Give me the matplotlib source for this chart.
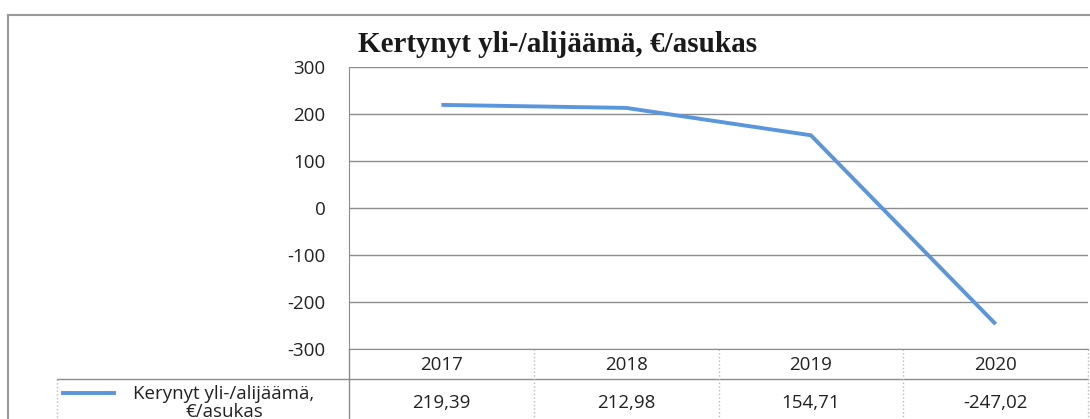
import matplotlib.pyplot as plt
from matplotlib import transforms

years = ['2017', '2018', '2019', '2020']
values = [219.39, 212.98, 154.71, -247.02]
value_labels = ['219,39', '212,98', '154,71', '-247,02']
title = 'Kertynyt yli-/alijäämä, €/asukas'
series_name = 'Kerynyt yli-/alijäämä,\n€/asukas'

W, H = 1090, 419
line_color = '#5A96DB'
grid_color = '#8C8C8C'
txt_color = '#222222'
fs = 13.5


def fx(px):
    return px / W


def fy(px):
    return 1 - px / H


fig = plt.figure(figsize=(W / 100, H / 100), dpi=100)
ax = fig.add_axes([fx(349), fy(349), fx(1088 - 349), (349 - 67) / H])

x = list(range(len(years)))
ax.plot(x, values, color=line_color, lw=2.8, solid_capstyle='butt', zorder=3)

ax.set_xlim(-0.5, len(years) - 0.5)
ax.set_ylim(-300, 300)
ticks = list(range(-300, 301, 100))
ax.set_yticks(ticks)
ax.set_yticklabels([str(t) for t in ticks], fontsize=fs, family='Open Sans', color=txt_color)
ax.tick_params(axis='y', length=0, pad=17)
ax.set_xticks([])
ax.grid(axis='y', color=grid_color, lw=1)
for s in ['top', 'right']:
    ax.spines[s].set_visible(False)
ax.spines['left'].set_color(grid_color)
ax.spines['bottom'].set_color(grid_color)

fig.text(fx(558), fy(45), title, ha='center', va='center',
         family='Liberation Serif', weight='bold', fontsize=21, color='#1a1a1a')

# data table under the plot
trans = transforms.blended_transform_factory(ax.transData, fig.transFigure)
tl = dict(transform=trans, clip_on=False, lw=1)
ax.plot([-0.5, len(years) - 0.5], [fy(379), fy(379)], color=grid_color, **tl)
ax.plot([-0.5, -0.5], [fy(349), fy(430)], color=grid_color, **tl)
for i in range(1, len(years) + 1):
    ax.plot([i - 0.5, i - 0.5], [fy(349), fy(430)], color='#BBBBBB', ls=':', **tl)
for i, (yr, lab) in enumerate(zip(years, value_labels)):
    ax.text(i, fy(365), yr, transform=trans, ha='center', va='center',
            fontsize=fs, family='Open Sans', color=txt_color)
    ax.text(i, fy(403), lab, transform=trans, ha='center', va='center',
            fontsize=fs, family='Open Sans', color=txt_color)

# legend cell
fig.add_artist(plt.Line2D([fx(57), fx(349)], [fy(379), fy(379)], color=grid_color, lw=1))
fig.add_artist(plt.Line2D([fx(57), fx(57)], [fy(379), fy(430)], color='#BBBBBB', lw=1, ls=':'))
fig.add_artist(plt.Line2D([fx(63), fx(114)], [fy(393), fy(393)], color=line_color, lw=2.8))
fig.text(fx(224), fy(403), series_name, ha='center', va='center', fontsize=fs,
         family='Open Sans', color=txt_color, linespacing=0.95)

# outer chart frame
fig.add_artist(plt.Line2D([fx(8), 1], [fy(15), fy(15)], color='#999999', lw=1.5))
fig.add_artist(plt.Line2D([fx(8), fx(8)], [fy(15), 0], color='#999999', lw=1.5))

fig.savefig('out.png', dpi=100)
